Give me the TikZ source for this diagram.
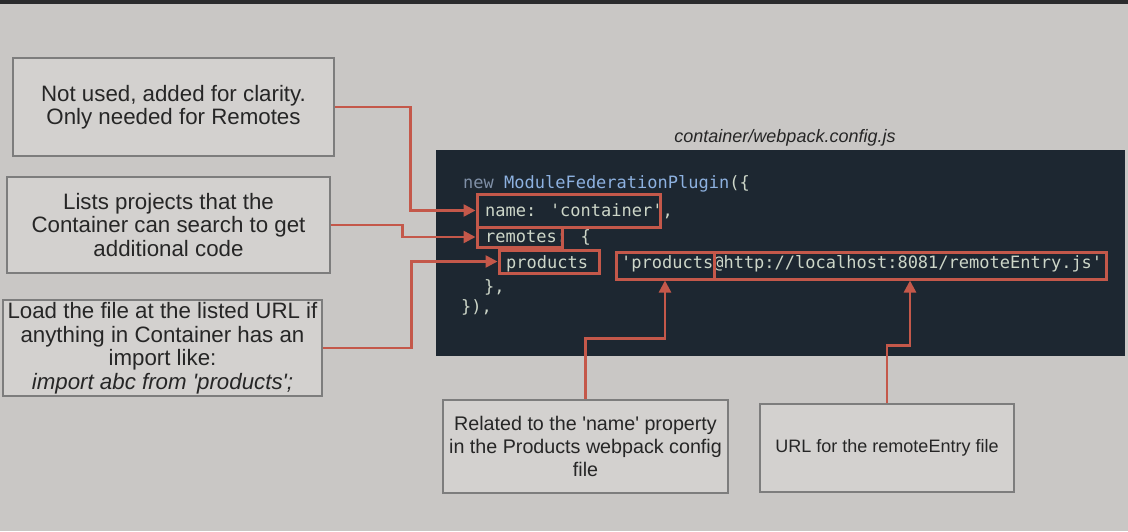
\documentclass[tikz,border=0pt]{standalone}
\usepackage{fontspec}
\setmainfont{Liberation Sans}
\newfontfamily\codefont{DejaVu Sans Mono}
\usetikzlibrary{arrows.meta}
\definecolor{bgc}{HTML}{C9C7C5}
\definecolor{topbar}{HTML}{2A2B2D}
\definecolor{codebg}{HTML}{1D2731}
\definecolor{codetxt}{HTML}{CDD6C8}
\definecolor{kwc}{HTML}{7F8FA6}
\definecolor{fnc}{HTML}{8DB1E0}
\definecolor{redc}{HTML}{C4584A}
\definecolor{notebd}{HTML}{7D7D7D}
\definecolor{notefill}{HTML}{D3D1CF}
\definecolor{notetxt}{HTML}{262626}
\tikzset{
  note/.style={draw=notebd, line width=1.3pt, fill=notefill, text=notetxt, align=center, inner sep=0pt},
  bignote/.style={note, font=\fontsize{22.3}{23.5}\selectfont},
  midnote/.style={note, font=\fontsize{19.7}{23}\selectfont},
  smallnote/.style={note, font=\fontsize{18}{22}\selectfont},
  codeline/.style={anchor=base west, inner sep=0pt, text=codetxt, font=\codefont\fontsize{17}{20}\selectfont},
  redbox/.style={draw=redc, line width=3pt, inner sep=0pt},
  conn/.style={draw=redc, line width=2.5pt, -{Triangle[length=12pt,width=12pt]}},
}
\newcommand{\sq}{\textquotesingle}
\begin{document}
\begin{tikzpicture}[x=1pt,y=-1pt]
\useasboundingbox (0,0) rectangle (1128,531);
\fill[bgc] (0,0) rectangle (1128,531);
\fill[topbar] (0,0) rectangle (1128,4);

% code panel
\fill[codebg] (436,150) rectangle (1125,356);
\node[codeline] (l1) at (463,188) {\textcolor{kwc}{new} \textcolor{fnc}{ModuleFederationPlugin}(\{};
\node[codeline] (l2) at (485,216) {name: 'container',};
\node[codeline] (l3) at (485,242) {remotes: \{};
\node[codeline] (l4a) at (506,268) {products};
\node[codeline] (l4b) at (621,268) {'products@http://localhost:8081/remoteEntry.js'};
\node[codeline] (l5) at (484,292) {\},};
\node[codeline] (l6) at (461,312) {\}),};

% red highlight boxes
\node[redbox, minimum width=183pt, minimum height=33pt] (namebox) at (568.5,210.5) {};
\node[redbox, minimum width=85pt, minimum height=20pt] (remotesbox) at (519.5,237) {};
\node[redbox, minimum width=100pt, minimum height=23pt] (prodbox) at (549,261.5) {};
\node[redbox, minimum width=98pt, minimum height=27pt] (qbox) at (665,265.5) {};
\node[redbox, minimum width=392pt, minimum height=27pt] (urlbox) at (910,265.5) {};

% title
\node[font=\itshape\fontsize{18}{20}\selectfont, text=notetxt, inner sep=0pt] (title) at (785,138) {container/webpack.config.js};

% notes
\node[bignote, minimum width=321pt, minimum height=98pt] (notused) at (173.5,107) {Not used, added for clarity.\\Only needed for Remotes};
\node[bignote, minimum width=323pt, minimum height=96pt] (lists) at (168.5,225) {Lists projects that the\\Container can search to get\\additional code};
\node[bignote, minimum width=319pt, minimum height=96pt] (loadfile) at (162.5,348) {Load the file at the listed URL if\\anything in Container has an\\import like:\\\textit{import abc from \sq products\sq;}};
\node[midnote, minimum width=285pt, minimum height=93pt] (related) at (585.5,446.5) {Related to the \sq name\sq\ property\\in the Products webpack config\\file};
\node[smallnote, minimum width=254pt, minimum height=88pt] (urlfor) at (887,448) {URL for the remoteEntry file};

% connectors
\draw[conn] (notused.east) -- ++(76,0) |- (namebox.west);
\draw[conn] (lists.east) -- ++(72,0) |- (remotesbox.west);
\draw[conn] (loadfile.east) -- ++(89,0) |- (prodbox.west);
\draw[conn] (related.north) -- ++(0,-61) -| (qbox.south);
\draw[conn] (urlfor.north) -- ++(0,-58) -| (urlbox.south);
\end{tikzpicture}
\end{document}
